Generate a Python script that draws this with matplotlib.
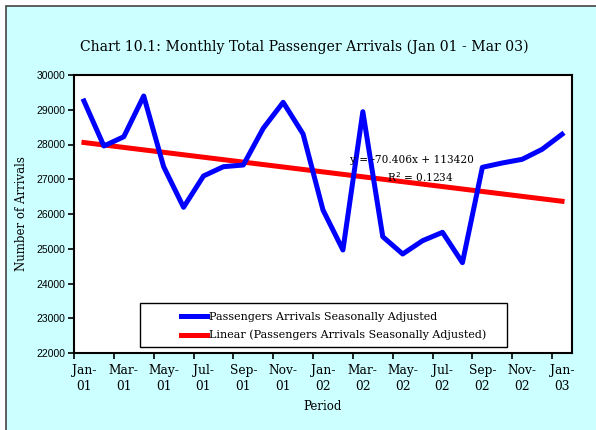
import matplotlib
matplotlib.use("Agg")
import matplotlib.pyplot as plt
from matplotlib.patches import Rectangle
import numpy as np

# monthly arrivals, seasonally adjusted (Jan 01 - Jan 03)
months = ["Jan-01", "Feb-01", "Mar-01", "Apr-01", "May-01", "Jun-01", "Jul-01",
          "Aug-01", "Sep-01", "Oct-01", "Nov-01", "Dec-01", "Jan-02", "Feb-02",
          "Mar-02", "Apr-02", "May-02", "Jun-02", "Jul-02", "Aug-02", "Sep-02",
          "Oct-02", "Nov-02", "Dec-02", "Jan-03"]
arrivals = [29252, 27957, 28224, 29396, 27361, 26193, 27094, 27361, 27410,
            28466, 29214, 28302, 26115, 24964, 28944, 25347, 24849, 25232,
            25473, 24599, 27344, 27468, 27574, 27862, 28294]
y_ticks = [22000, 23000, 24000, 25000, 26000, 27000, 28000, 29000, 30000]

serif = "DejaVu Serif"
sans = "Liberation Sans"

fig = plt.figure(figsize=(5.96, 4.30), dpi=100, facecolor="white")
W, H = 596, 430
# cyan chart area with dark border on top/left
fig.patches.append(Rectangle((5.5 / W, -0.05), 1.1, 1 - 5.5 / H + 0.05,
                             transform=fig.transFigure, facecolor="#ccffff",
                             edgecolor="#444444", linewidth=1.2, zorder=-10))

ax = fig.add_axes([74 / W, 1 - 353 / H, (572 - 74) / W, (353 - 75) / H])
ax.set_facecolor("white")

x = np.arange(len(months))
ax.plot(x, arrivals, color="#0000ff", linewidth=3.6,
        label="Passengers Arrivals Seasonally Adjusted", zorder=3)

# linear trend
coef = np.polyfit(x, arrivals, 1)
trend = np.polyval(coef, x)
ax.plot(x, trend, color="#ff0000", linewidth=3.6,
        label="Linear (Passengers Arrivals Seasonally Adjusted)", zorder=2)

ax.text(0.679, 0.694, "y = -70.406x + 113420", transform=ax.transAxes,
        fontsize=7.6, family=serif, ha="center", va="center", zorder=4)
ax.text(0.695, 0.631, "R$^2$ = 0.1234", transform=ax.transAxes,
        fontsize=7.6, family=serif, ha="center", va="center", zorder=4)

ax.set_xlim(-0.5, len(months) - 0.5)
ax.set_ylim(22000, 30000)
ax.set_yticks(y_ticks)
ax.set_yticklabels([str(v) for v in y_ticks], family=sans, fontsize=7.5)

# tick marks between categories, labels every second month
ax.set_xticks(np.arange(-0.5, len(months) - 1, 2))
ax.set_xticklabels([])
ax.set_xticks(x[::2], minor=True)
ax.set_xticklabels([m.replace("-", "-\n") for m in months[::2]], minor=True,
                   family=serif, fontsize=8.8, linespacing=1.3)
ax.tick_params(axis="x", which="minor", length=0, pad=8)
ax.tick_params(axis="x", which="major", length=4, width=1.2, direction="out")
ax.tick_params(axis="y", length=4, width=1.2, direction="out", pad=2)

for s in ax.spines.values():
    s.set_linewidth(1.5)
    s.set_color("black")

ax.set_xlabel("Period", family=serif, fontsize=8.5, labelpad=5)
ax.set_ylabel("Number of Arrivals", family=serif, fontsize=8.5, labelpad=6)

fig.text(0.51, 1 - 47 / H, "Chart 10.1: Monthly Total Passenger Arrivals (Jan 01 - Mar 03)",
         family=serif, fontsize=10.1, ha="center", va="center")

# legend box drawn separately, entries placed inside it
ax.add_patch(Rectangle(((140 - 74) / 498, (353 - 347) / 278), 367 / 498, 44 / 278,
                       transform=ax.transAxes, facecolor="white", edgecolor="black",
                       linewidth=1.0, zorder=5))
leg = ax.legend(loc="center left", bbox_to_anchor=((181 - 74) / 498, (353 - 326) / 278),
                frameon=False, prop={"family": serif, "size": 8},
                handlelength=2.35, handletextpad=0.2, borderpad=0, borderaxespad=0,
                labelspacing=0.75)
leg.set_zorder(6)

fig.savefig("out.png", dpi=100, facecolor=fig.get_facecolor())
